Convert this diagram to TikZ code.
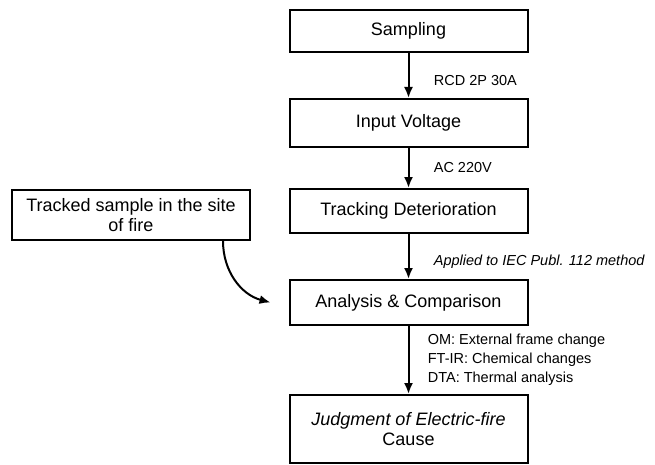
\documentclass[tikz,border=0pt]{standalone}
\usepackage{fontspec}
\setmainfont{Liberation Sans}
\usetikzlibrary{positioning,arrows.meta}

\tikzset{
  stage/.style={draw,line width=2pt,minimum width=238pt,align=center,
    inner sep=2pt,font=\fontsize{18}{20}\selectfont},
  flow/.style={line width=2pt,-{Latex[length=11pt,width=9pt]}},
  note/.style={right,align=left,font=\fontsize{14.5}{19}\selectfont},
}

\begin{document}
\begin{tikzpicture}[x=1pt,y=-1pt,line cap=round]
\useasboundingbox (0,0) rectangle (655,465);

\node[stage,minimum height=42pt] (samp) at (408.5,31) {Sampling};
\node[stage,minimum height=48pt] (volt) at (408.5,123) {Input Voltage};
\node[stage,minimum height=44pt] (track) at (408.5,211) {Tracking Deterioration};
\node[stage,minimum height=45pt] (ana) at (408.5,302.5) {Analysis \& Comparison};
\node[stage,minimum height=68pt] (judge) at (408.5,429) {\textit{Judgment of Electric-fire}\\Cause};
\node[stage,minimum height=50pt] (site) at (131,215) {Tracked sample in the site\\of fire};

\draw[flow] (samp) -- node[note,xshift=21pt,yshift=-5pt] {RCD 2P 30A} (volt);
\draw[flow] (volt) -- node[note,xshift=21pt] {AC 220V} (track);
\draw[flow] (track) -- node[note,xshift=21pt,yshift=-5pt] {\itshape Applied to IEC Publ. 112 method} (ana);
\draw[flow] (ana) -- node[note,xshift=15pt] {OM: External frame change\\FT-IR: Chemical changes\\DTA: Thermal analysis} (judge);

% sample from the fire site
\draw[flow] ([xshift=-28pt]site.south east) to[out=-90,in=165] ([xshift=-18pt]ana.west);
\end{tikzpicture}
\end{document}
